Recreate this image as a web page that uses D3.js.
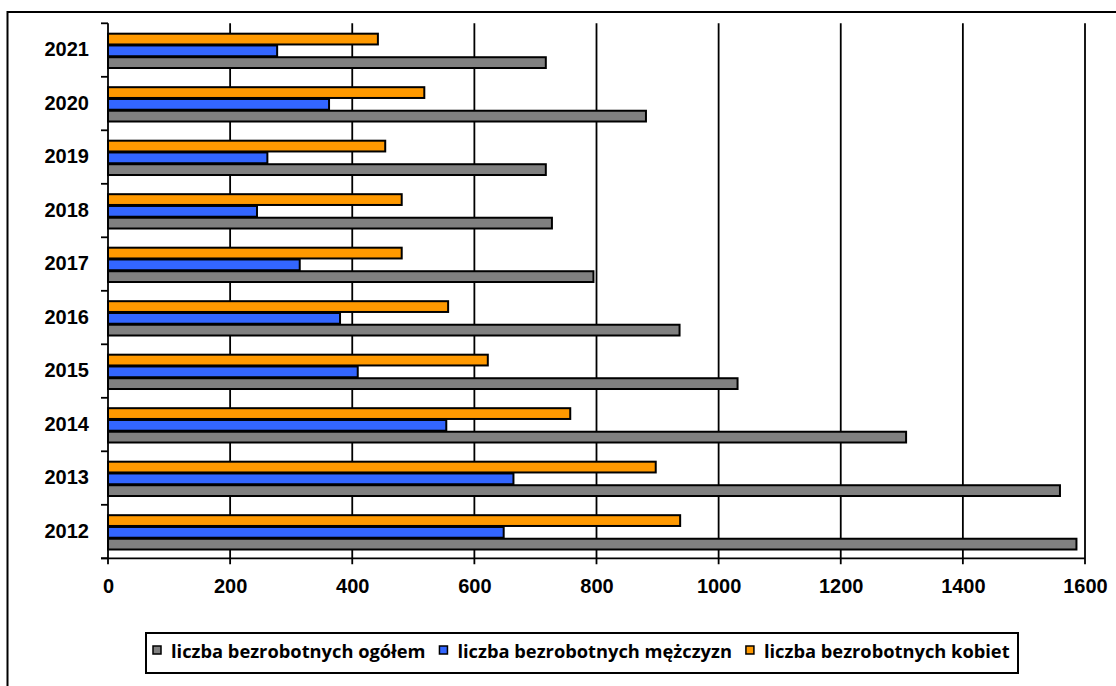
<!DOCTYPE html>
<html lang="pl">
<head>
<meta charset="UTF-8">
<title>Bezrobotni 2012-2021</title>
<script src="https://cdn.jsdelivr.net/npm/d3@7"></script>
<style>
  body { margin: 0; background: #fff; }
  svg { display: block; font-family: "Open Sans", Lato, sans-serif; font-weight: bold; }
</style>
</head>
<body>
<script>
// dane (od dołu: 2012 ... 2021)
var lata = ["2012", "2013", "2014", "2015", "2016", "2017", "2018", "2019", "2020", "2021"];
var ogolem    = [1586, 1559, 1307, 1031, 936, 795, 727, 717, 881, 717];
var mezczyzni = [648, 664, 554, 409, 380, 314, 244, 261, 362, 277];
var kobiety   = [937, 897, 757, 622, 557, 481, 481, 454, 518, 442];
var xTicks = [0, 200, 400, 600, 800, 1000, 1200, 1400, 1600];

var serie = [
  { nazwa: "liczba bezrobotnych ogółem", wartosci: ogolem, kolor: "#808080" },
  { nazwa: "liczba bezrobotnych mężczyzn", wartosci: mezczyzni, kolor: "#3366ff" },
  { nazwa: "liczba bezrobotnych kobiet", wartosci: kobiety, kolor: "#ff9900" }
];
// kolejność słupków w grupie (od góry): kobiety, mężczyźni, ogółem
var kolejnosc = [2, 1, 0];

var W = 1116, H = 686;
var mLeft = 108, mRight = 1085, mTop = 23.3, mBottom = 558.3;
var fsOsi = 20, fsLeg = 18.3;

var svg = d3.select("body").append("svg").attr("width", W).attr("height", H);

// ramka wykresu (wychodzi poza kadr)
svg.append("rect").attr("x", 7.5).attr("y", 12).attr("width", 1200).attr("height", 800)
   .attr("fill", "none").attr("stroke", "#000").attr("stroke-width", 2);

var x = d3.scaleLinear().domain([0, 1600]).range([mLeft, mRight]);

// lata odwrócone: 2021 na górze
var y = d3.scaleBand().domain(lata.slice().reverse()).range([mTop, mBottom])
          .paddingInner(0.34).paddingOuter(0.17);
var y1 = d3.scaleBand().domain(kolejnosc).range([0, y.bandwidth()]);
var granice = d3.scaleLinear().domain([0, lata.length]).range([mTop, mBottom]);

// linie siatki + znaczniki osi X
svg.append("g").selectAll("line").data(xTicks).enter().append("line")
   .attr("x1", function (d) { return x(d); }).attr("x2", function (d) { return x(d); })
   .attr("y1", mTop).attr("y2", mBottom + 6)
   .attr("stroke", "#000").attr("stroke-width", 1.8);

// oś X
svg.append("line").attr("x1", mLeft - 7).attr("x2", mRight).attr("y1", mBottom).attr("y2", mBottom)
   .attr("stroke", "#000").attr("stroke-width", 1.8);

// znaczniki osi Y na granicach kategorii
svg.append("g").selectAll("line").data(d3.range(lata.length + 1)).enter().append("line")
   .attr("x1", mLeft - 7).attr("x2", mLeft)
   .attr("y1", function (i) { return granice(i); }).attr("y2", function (i) { return granice(i); })
   .attr("stroke", "#000").attr("stroke-width", 1.8);

// słupki
var grupy = svg.append("g").selectAll("g").data(lata).enter().append("g")
   .attr("transform", function (d) { return "translate(0," + (y(d) + 0.8) + ")"; });

grupy.selectAll("rect")
   .data(function (rok, i) {
     return kolejnosc.map(function (k) { return { k: k, v: serie[k].wartosci[i] }; });
   })
   .enter().append("rect")
   .attr("x", x(0))
   .attr("y", function (d) { return y1(d.k) + 0.5; })
   .attr("width", function (d) { return x(d.v) - x(0); })
   .attr("height", y1.bandwidth() - 1)
   .attr("fill", function (d) { return serie[d.k].kolor; })
   .attr("stroke", "#000").attr("stroke-width", 2);

// etykiety osi Y
var osY = svg.append("g").attr("transform", "translate(" + mLeft + ",0)")
   .call(d3.axisLeft(y).tickSize(0).tickPadding(19));
osY.select(".domain").remove();
osY.selectAll("text").attr("font-size", fsOsi).attr("font-family", null).attr("fill", "#000");

// etykiety osi X
var osX = svg.append("g").attr("transform", "translate(0," + mBottom + ")")
   .call(d3.axisBottom(x).tickValues(xTicks).tickFormat(d3.format("d")).tickSize(0).tickPadding(21));
osX.select(".domain").remove();
osX.selectAll("text").attr("font-size", fsOsi).attr("font-family", null).attr("fill", "#000");

// legenda
var leg = svg.append("g");
leg.append("rect").attr("x", 146).attr("y", 633).attr("width", 872).attr("height", 40)
   .attr("fill", "#fff").attr("stroke", "#000").attr("stroke-width", 2);

var lx = 153;
serie.forEach(function (s) {
  leg.append("rect").attr("x", lx).attr("y", 646).attr("width", 8).attr("height", 8)
     .attr("fill", s.kolor).attr("stroke", "#000").attr("stroke-width", 1.5);
  var t = leg.append("text").attr("x", lx + 18).attr("y", 658)
     .attr("font-size", fsLeg).text(s.nazwa);
  lx = lx + 18 + t.node().getComputedTextLength() + 14;
});
</script>
</body>
</html>
